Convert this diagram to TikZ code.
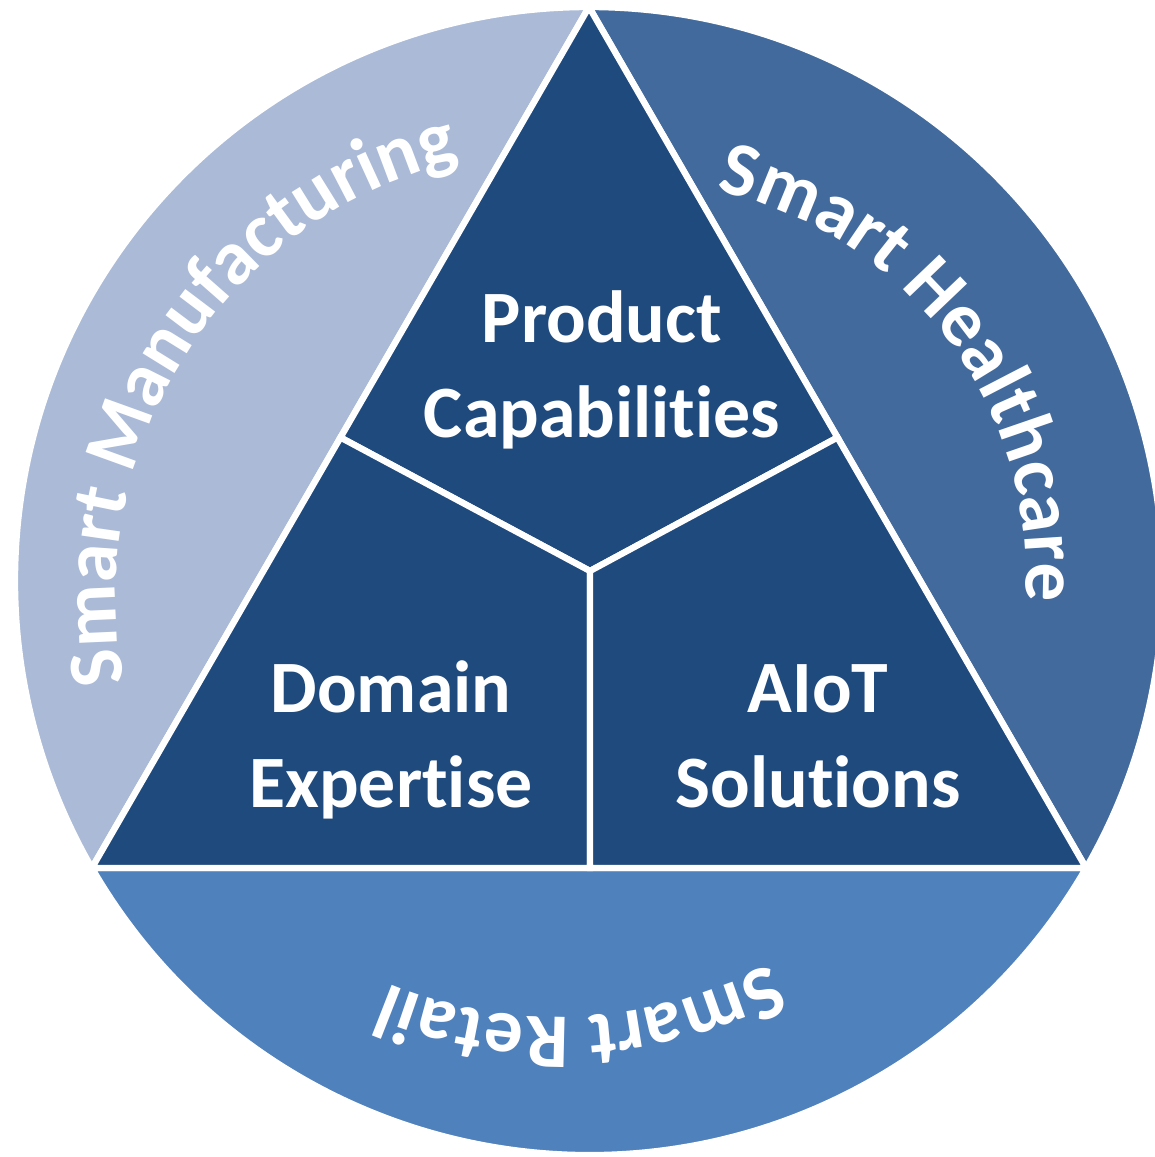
\documentclass[tikz,border=0pt]{standalone}
\usepackage{fontspec}
\setmainfont{Carlito}[Ligatures=NoCommon]
\usetikzlibrary{decorations.text}
\definecolor{coreblue}{HTML}{1F4A7D}
\definecolor{mfgblue}{HTML}{AABAD7}
\definecolor{careblue}{HTML}{426A9D}
\definecolor{retailblue}{HTML}{4F81BD}
\tikzset{
  sector/.style={fill=#1, draw=white, line width=1.8pt, line join=round},
  core part/.style={fill=coreblue, draw=white, line width=1.8pt},
  core label/.style={text=white, font=\fontsize{21}{26.8}\selectfont\bfseries, align=center},
  ring label/.style={decorate, decoration={text along path, text align=center,
      text color=white, text={|\fontsize{22}{22}\selectfont\bfseries|#1}}},
}

\begin{document}
\begin{tikzpicture}[x=0.01cm, y=0.01cm]
  \useasboundingbox (-589,-576) rectangle (566,581);
  % corners of the triangle
  \coordinate (top) at (90:574);
  \coordinate (bl) at (210:574);
  \coordinate (br) at (-30:574);
  \coordinate (lmid) at (-248.5,143.5);
  \coordinate (rmid) at (248.5,143.5);
  \coordinate (hub) at (1,10);
  \coordinate (bmid) at (1,-287);
  % outer ring
  \draw[sector=mfgblue] (top) arc[start angle=90, end angle=210, radius=574] -- cycle;
  \draw[sector=careblue] (top) arc[start angle=90, end angle=-30, radius=574] -- cycle;
  \draw[sector=retailblue] (bl) arc[start angle=210, end angle=330, radius=574] -- cycle;
  % triangle
  \draw[core part] (top) -- (lmid) -- (hub) -- (rmid) -- cycle;
  \draw[core part] (lmid) -- (bl) -- (bmid) -- (hub) -- cycle;
  \draw[core part] (hub) -- (bmid) -- (br) -- (rmid) -- cycle;
  \node[core label, anchor=base] (product) at (13,144) {Product\\Capabilities};
  \node[core label, anchor=base] (domain) at (-198,-226) {Domain\\Expertise};
  \node[core label, anchor=base] (aiot) at (229,-226) {AIoT\\Solutions};
  % ring texts
  \path[ring label=Smart Manufacturing] ([shift={(-26,-14)}]207.3:447) arc[start angle=207.3, end angle=87.3, radius=447];
  \path[ring label=Smart Healthcare] ([shift={(44,6)}]96.9:393) arc[start angle=96.9, end angle=-23.1, radius=393];
  \path[ring label=Smart Retail] ([shift={(-31,8)}]-27:444) arc[start angle=-27, end angle=-147, radius=444];
\end{tikzpicture}
\end{document}
